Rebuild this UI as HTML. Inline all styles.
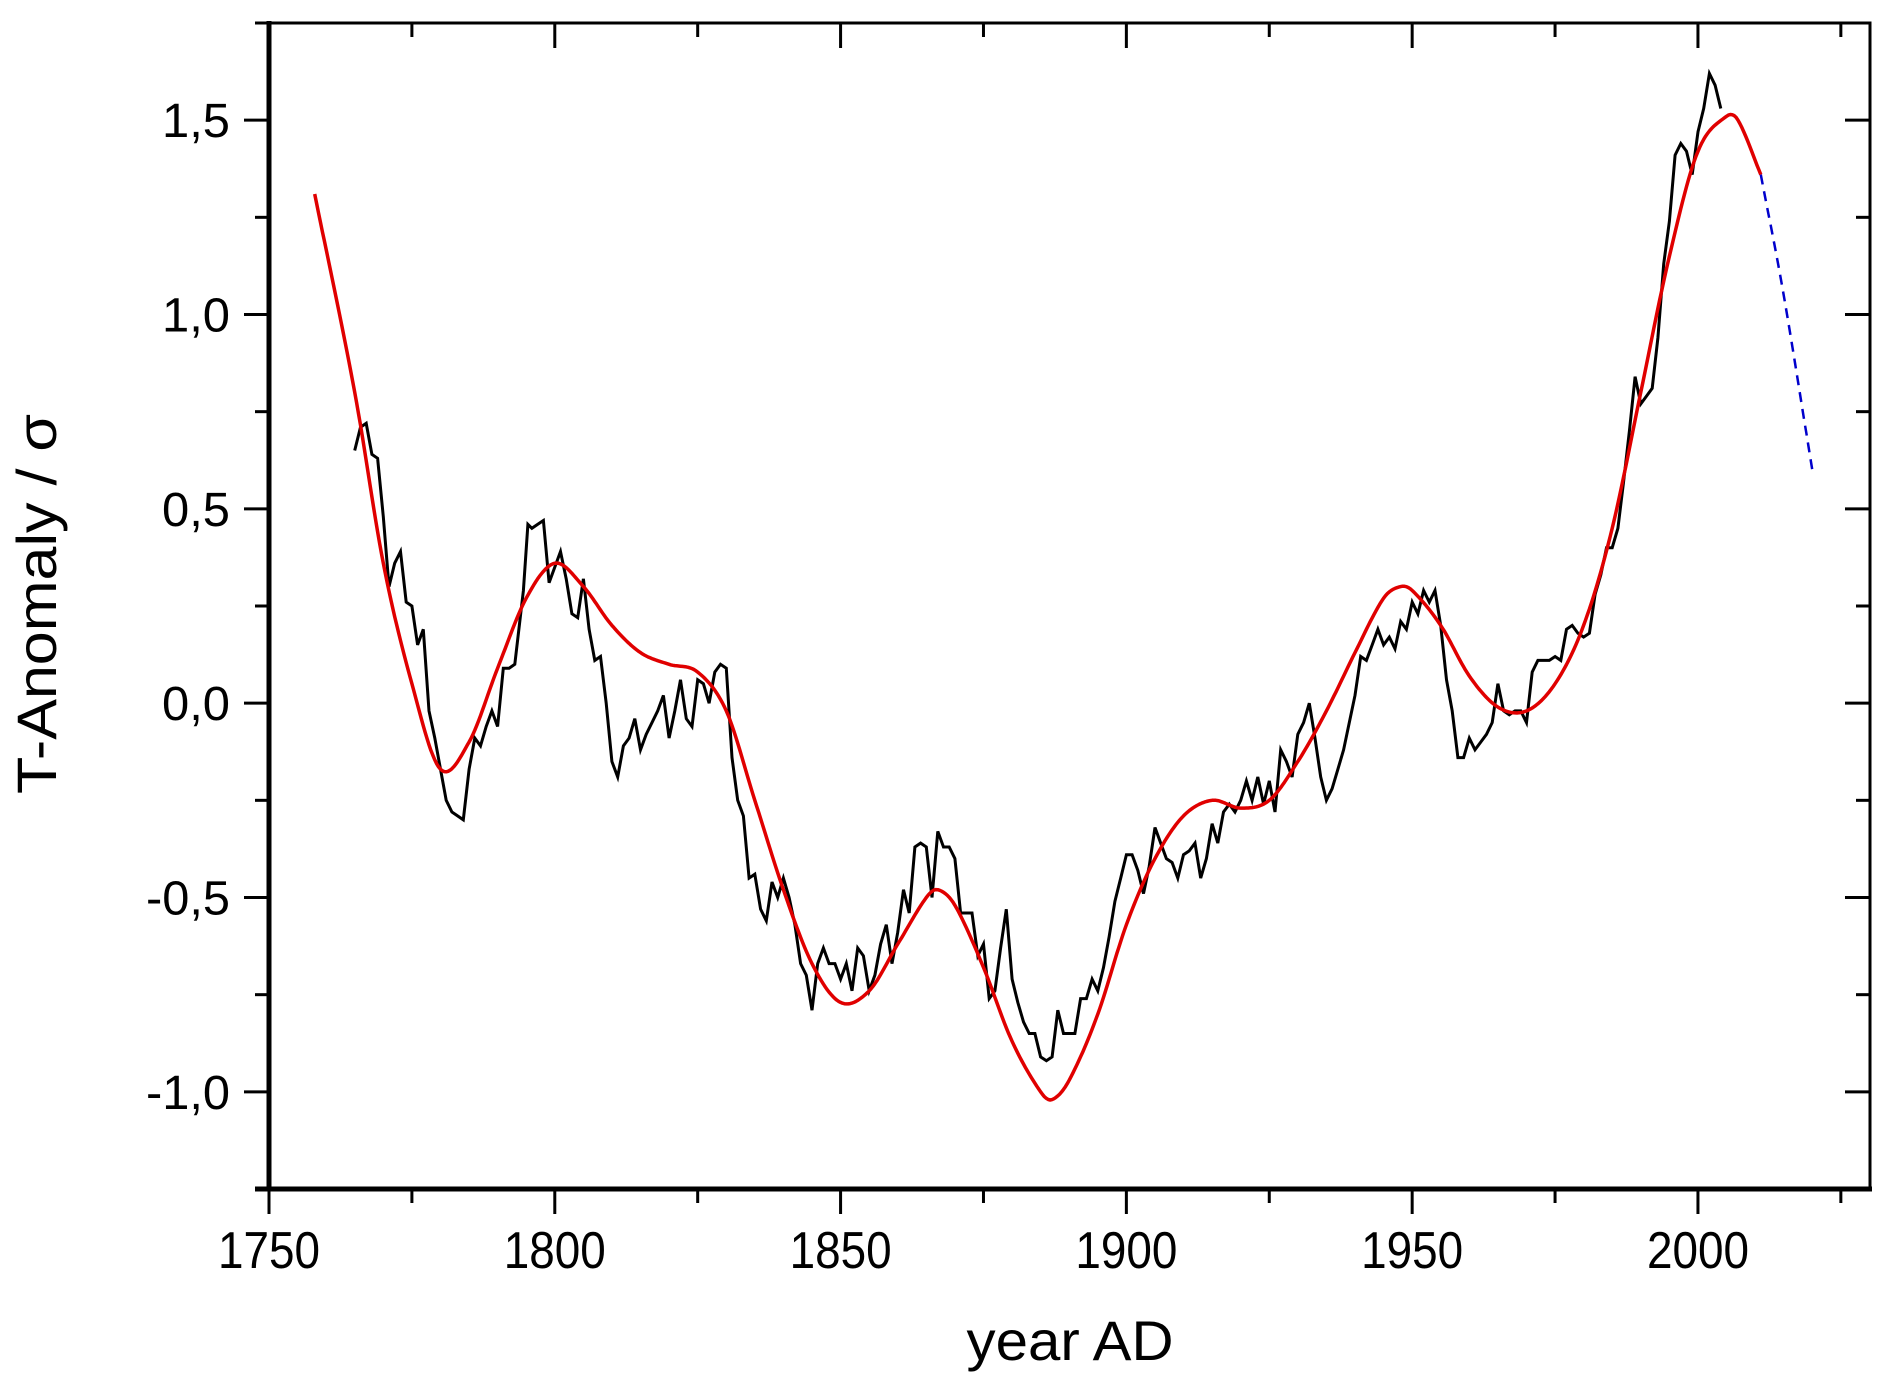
<!DOCTYPE html>
<html><head><meta charset="utf-8"><style>
html,body{margin:0;padding:0;background:#fff;}
svg{display:block;font-family:"Liberation Sans",Arial,sans-serif;}
</style></head><body>
<svg id="chart" width="1883" height="1381" viewBox="0 0 1883 1381" xmlns="http://www.w3.org/2000/svg">
<g id="axes"></g>
<g id="marks"></g>
<text x="0" y="0" transform="translate(56,604) rotate(-90)" text-anchor="middle" font-size="56" textLength="380" lengthAdjust="spacingAndGlyphs">T-Anomaly / σ</text>
<text x="1070" y="1360" text-anchor="middle" font-size="56" textLength="207" lengthAdjust="spacingAndGlyphs">year AD</text>
</svg>
<script>
const obsYears=[1765,1766,1767,1768,1769,1770,1771,1772,1773,1774,1775,1776,1777,1778,1779,1780,1781,1782,1784,1785,1786,1787,1788,1789,1790,1791,1792,1793,1794.5,1795.3,1796,1797,1798,1799,1800,1801,1802,1803,1804,1805,1806,1807,1808,1809,1810,1811,1812,1813,1814,1815,1816,1817,1818,1819,1820,1821,1822,1823,1824,1825,1826,1827,1828,1829,1830,1831,1832,1833,1834,1835,1836,1837,1838,1839,1840,1841,1842,1843,1844,1845,1846,1847,1848,1849,1850,1851,1852,1853,1854,1855,1856,1857,1858,1859,1860,1861,1862,1863,1864,1865,1866,1867,1868,1869,1870,1871,1872,1873,1874,1875,1876,1877,1878,1879,1880,1881,1882,1883,1884,1885,1886,1887,1888,1889,1890,1891,1892,1893,1894,1895,1896,1897,1898,1899,1900,1901,1902,1903,1904,1905,1906,1907,1908,1909,1910,1911,1912,1913,1914,1915,1916,1917,1918,1919,1920,1921,1922,1923,1924,1925,1926,1927,1928,1929,1930,1931,1932,1933,1934,1935,1936,1937,1938,1939,1940,1941,1942,1943,1944,1945,1946,1947,1948,1949,1950,1951,1952,1953,1954,1955,1956,1957,1958,1959,1960,1961,1962,1963,1964,1965,1966,1967,1968,1969,1970,1971,1972,1973,1974,1975,1976,1977,1978,1979,1980,1981,1982,1983,1984,1985,1986,1987,1988,1989,1990,1991,1992,1993,1994,1995,1996,1997,1998,1999,2000,2001,2002,2003,2004];
const obsValues=[0.65,0.71,0.72,0.64,0.63,0.48,0.30,0.36,0.39,0.26,0.25,0.15,0.19,-0.02,-0.09,-0.17,-0.25,-0.28,-0.30,-0.17,-0.09,-0.11,-0.06,-0.02,-0.06,0.09,0.09,0.10,0.29,0.46,0.45,0.46,0.47,0.31,0.35,0.39,0.32,0.23,0.22,0.32,0.19,0.11,0.12,0.0,-0.15,-0.19,-0.11,-0.09,-0.04,-0.12,-0.08,-0.05,-0.02,0.02,-0.09,-0.02,0.06,-0.04,-0.06,0.06,0.05,0.0,0.08,0.10,0.09,-0.14,-0.25,-0.29,-0.45,-0.44,-0.53,-0.56,-0.46,-0.50,-0.45,-0.50,-0.57,-0.67,-0.70,-0.79,-0.67,-0.63,-0.67,-0.67,-0.71,-0.67,-0.74,-0.63,-0.65,-0.74,-0.70,-0.62,-0.57,-0.67,-0.59,-0.48,-0.54,-0.37,-0.36,-0.37,-0.50,-0.33,-0.37,-0.37,-0.40,-0.54,-0.54,-0.54,-0.65,-0.62,-0.76,-0.74,-0.63,-0.53,-0.71,-0.77,-0.82,-0.85,-0.85,-0.91,-0.92,-0.91,-0.79,-0.85,-0.85,-0.85,-0.76,-0.76,-0.71,-0.74,-0.68,-0.60,-0.51,-0.45,-0.39,-0.39,-0.43,-0.49,-0.42,-0.32,-0.36,-0.40,-0.41,-0.45,-0.39,-0.38,-0.36,-0.45,-0.40,-0.31,-0.36,-0.28,-0.26,-0.28,-0.25,-0.20,-0.25,-0.19,-0.26,-0.20,-0.28,-0.12,-0.15,-0.19,-0.08,-0.05,0.0,-0.09,-0.19,-0.25,-0.22,-0.17,-0.12,-0.05,0.02,0.12,0.11,0.15,0.19,0.15,0.17,0.14,0.21,0.19,0.26,0.23,0.29,0.26,0.29,0.20,0.06,-0.02,-0.14,-0.14,-0.09,-0.12,-0.10,-0.08,-0.05,0.05,-0.02,-0.03,-0.02,-0.02,-0.05,0.08,0.11,0.11,0.11,0.12,0.11,0.19,0.20,0.18,0.17,0.18,0.28,0.33,0.40,0.40,0.45,0.57,0.70,0.84,0.77,0.79,0.81,0.94,1.13,1.24,1.41,1.44,1.42,1.36,1.47,1.53,1.62,1.59,1.53];
const fitYears=[1758,1765,1770,1775,1780,1785,1790,1795,1800,1805,1810,1815,1820,1825,1830,1835,1840,1845,1850,1855,1860,1865,1867,1870,1875,1880,1885,1887,1890,1895,1900,1905,1910,1915,1920,1925,1930,1935,1940,1945,1948,1950,1955,1960,1965,1970,1975,1980,1985,1990,1995,2000,2005,2007,2011];
const fitValues=[1.31,0.80,0.36,0.05,-0.17,-0.10,0.09,0.27,0.36,0.30,0.20,0.13,0.10,0.08,-0.02,-0.25,-0.48,-0.67,-0.77,-0.74,-0.62,-0.50,-0.48,-0.52,-0.68,-0.87,-1.00,-1.02,-0.97,-0.80,-0.57,-0.40,-0.29,-0.25,-0.27,-0.25,-0.15,-0.02,0.13,0.27,0.30,0.29,0.20,0.07,-0.01,-0.02,0.05,0.20,0.45,0.80,1.15,1.42,1.51,1.50,1.36];
const projYears=[2011,2015,2020];
const projValues=[1.36,1.05,0.60];
const xTickLabels=["1750","1800","1850","1900","1950","2000"];
const yTickLabels=["-1,0","-0,5","0,0","0,5","1,0","1,5"];

const L=269,R=1870,T=23,B=1189;
const X0=1750,X1=2030.1,Y0=-1.25,Y1=1.75;
function xs(v){return L+(v-X0)*(R-L)/(X1-X0);}
function ys(v){return B-(v-Y0)*(B-T)/(Y1-Y0);}
const NS="http://www.w3.org/2000/svg";
function mk(tag,attrs,parent){const e=document.createElementNS(NS,tag);for(const k in attrs)e.setAttribute(k,attrs[k]);parent.appendChild(e);return e;}
const axes=document.getElementById('axes'),marks=document.getElementById('marks');

let f=mk('rect',{x:L,y:T,width:R-L,height:B-T,fill:'none',stroke:'#000','stroke-width':3},axes);


let la=mk('line',{x1:L,y1:T-2,x2:L,y2:B+2,stroke:'#000','stroke-width':5},axes);


let ba=mk('line',{x1:L-14,y1:B,x2:R+2,y2:B,stroke:'#000','stroke-width':5},axes);



for(let yr=1750;yr<=2025;yr+=25){
  const x=xs(yr),major=(yr%50===0);
  const len=major?25:14;
  let t=mk('line',{x1:x,y1:B,x2:x,y2:B+len,stroke:'#000','stroke-width':3},axes);
  
  
  let t2=mk('line',{x1:x,y1:T,x2:x,y2:T+len,stroke:'#000','stroke-width':3},axes);
  
  
}
xTickLabels.forEach(s=>{
  let t=mk('text',{x:xs(+s),y:1268,'text-anchor':'middle','font-size':52,textLength:102,lengthAdjust:'spacingAndGlyphs'},axes);
  t.textContent=s;
  
  
});
for(let i=0;i<=12;i++){
  const v=-1.25+i*0.25,y=ys(v),major=(Math.abs(v*2-Math.round(v*2))<1e-9);
  const len=major?25:14;
  let t=mk('line',{x1:L-len,y1:y,x2:L,y2:y,stroke:'#000','stroke-width':3},axes);
  
  
  let t2=mk('line',{x1:R-len,y1:y,x2:R,y2:y,stroke:'#000','stroke-width':3},axes);
  
  
}
yTickLabels.forEach(s=>{
  const v=parseFloat(s.replace(',','.'));
  let t=mk('text',{x:230,y:ys(v)+17,'text-anchor':'end','font-size':48,textLength:s.length===3?68:84,lengthAdjust:'spacingAndGlyphs'},axes);
  t.textContent=s;
  
  
});

// Hermite spline in data space with non-uniform tangents
function smooth(xa,ya){
  const n=xa.length,m=[];
  for(let i=0;i<n;i++){
    if(i===0)m.push((ya[1]-ya[0])/(xa[1]-xa[0]));
    else if(i===n-1)m.push((ya[n-1]-ya[n-2])/(xa[n-1]-xa[n-2]));
    else m.push((ya[i+1]-ya[i-1])/(xa[i+1]-xa[i-1]));
  }
  const pts=[];
  for(let i=0;i<n-1;i++){
    const h=xa[i+1]-xa[i],steps=Math.max(4,Math.round(h*3));
    for(let s=0;s<steps;s++){
      const t=s/steps,t2=t*t,t3=t2*t;
      const v=(2*t3-3*t2+1)*ya[i]+(t3-2*t2+t)*h*m[i]+(-2*t3+3*t2)*ya[i+1]+(t3-t2)*h*m[i+1];
      pts.push(xs(xa[i]+t*h).toFixed(1)+','+ys(v).toFixed(1));
    }
  }
  pts.push(xs(xa[n-1]).toFixed(1)+','+ys(ya[n-1]).toFixed(1));
  return 'M'+pts.join(' L');
}
let obs=mk('polyline',{points:obsYears.map((x,i)=>xs(x).toFixed(1)+','+ys(obsValues[i]).toFixed(1)).join(' '),fill:'none',stroke:'#000','stroke-width':3,'stroke-linejoin':'miter'},marks);


let fit=mk('path',{d:smooth(fitYears,fitValues),fill:'none',stroke:'#e00000','stroke-width':3.5,'stroke-linejoin':'round'},marks);


let proj=mk('path',{d:smooth(projYears,projValues),fill:'none',stroke:'#0000cc','stroke-width':2.5,'stroke-dasharray':'10,7'},marks);


</script>
</body></html>
